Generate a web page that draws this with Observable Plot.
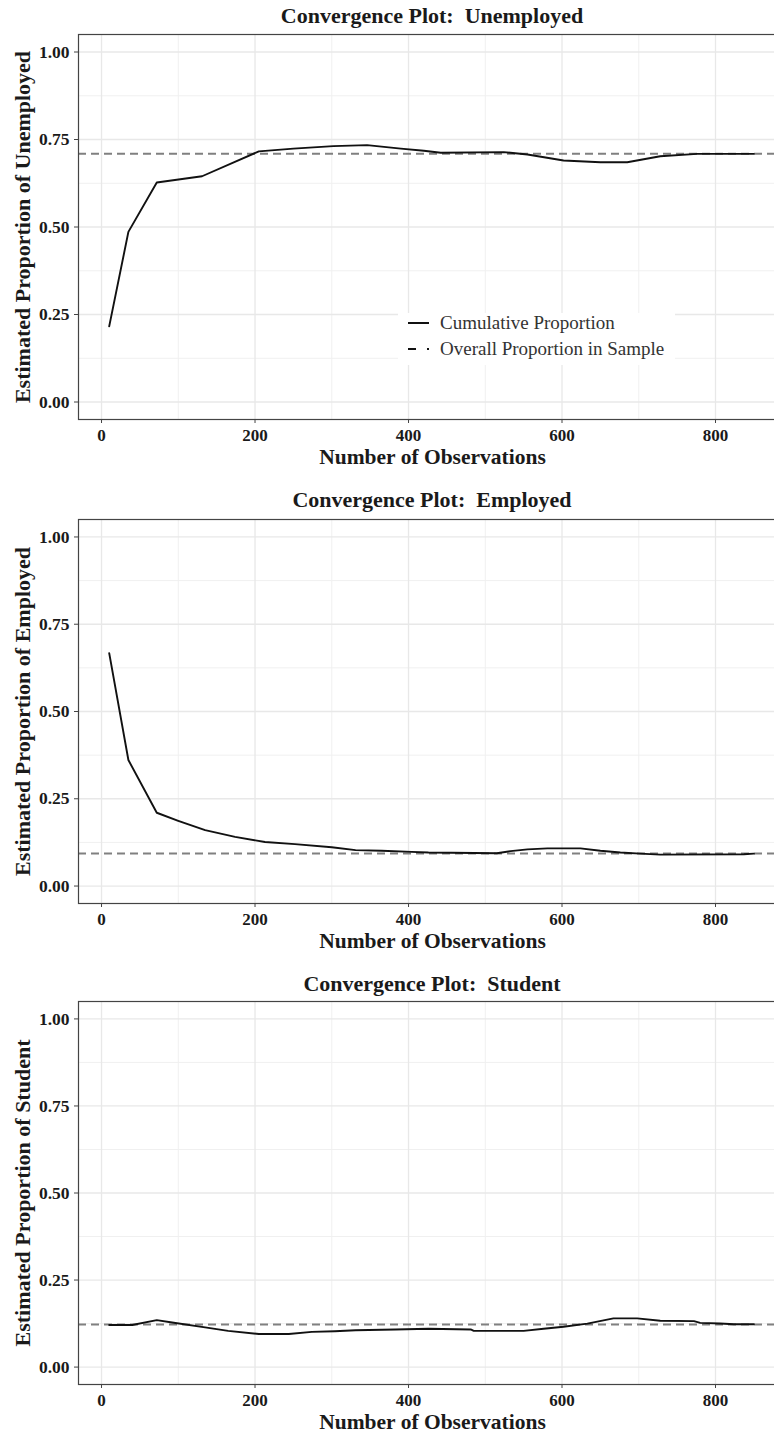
<!DOCTYPE html>
<html>
<head>
<meta charset="utf-8">
<script src="https://cdn.jsdelivr.net/npm/d3@7"></script>
<script src="https://cdn.jsdelivr.net/npm/@observablehq/plot@0.6"></script>
<style>
  html, body { margin: 0; padding: 0; background: #fff; overflow: hidden; }
  #wrap { position: relative; width: 774px; height: 1434px; overflow: hidden; }
  .title { margin-left: 78px; width: 708px; text-align: center; font-family: "Liberation Serif", serif; font-weight: bold; font-size: 22px; color: #1a1a1a; white-space: pre; }
  .legend { position: absolute; left: 398px; top: 313px; width: 277px; height: 52px; background: #fff; font-family: "Liberation Serif", serif; font-size: 19px; color: #333; }
  .legend .row { position: absolute; left: 0; height: 20px; display: flex; align-items: center; }
  .legend svg { margin-left: 10px; margin-right: 11px; }
  #wrap > div > svg { display: block; max-width: none !important; }
</style>
</head>
<body>
<div id="wrap"></div>
<script>
// ---- data ----
const xTicks = [0, 200, 400, 600, 800];
const xMinor = [100, 300, 500, 700];
const yTicks = [0, 0.25, 0.5, 0.75, 1];
const yMinor = [0.125, 0.375, 0.625, 0.875];

const obsUnemployed  = [10, 35, 72, 131, 205, 250, 302, 346, 390, 420, 442, 524, 555, 602, 650, 685, 728, 776, 850];
const propUnemployed = [0.216, 0.486, 0.627, 0.645, 0.716, 0.724, 0.731, 0.734, 0.724, 0.718, 0.712, 0.714, 0.707, 0.690, 0.685, 0.685, 0.702, 0.709, 0.709];
const overallUnemployed = 0.709;

const obsEmployed  = [10, 35, 72, 100, 135, 174, 213, 252, 300, 331, 365, 404, 426, 515, 533, 555, 581, 624, 650, 676, 702, 728, 837, 850];
const propEmployed = [0.667, 0.361, 0.210, 0.187, 0.160, 0.141, 0.126, 0.120, 0.111, 0.103, 0.101, 0.098, 0.096, 0.094, 0.100, 0.105, 0.108, 0.108, 0.101, 0.096, 0.093, 0.090, 0.091, 0.093];
const overallEmployed = 0.093;

const obsStudent  = [10, 40, 72, 92, 135, 165, 205, 244, 274, 304, 331, 383, 426, 481, 485, 550, 576, 602, 633, 667, 698, 728, 772, 780, 806, 824, 850];
const propStudent = [0.121, 0.121, 0.135, 0.128, 0.114, 0.104, 0.095, 0.095, 0.101, 0.103, 0.106, 0.108, 0.110, 0.108, 0.104, 0.104, 0.110, 0.116, 0.125, 0.140, 0.140, 0.133, 0.132, 0.127, 0.125, 0.123, 0.123];
const overallStudent = 0.122;

const panels = [
  {title: "Convergence Plot:  Unemployed", ylabel: "Estimated Proportion of Unemployed", obs: obsUnemployed, prop: propUnemployed, overall: overallUnemployed, mt: 2, mb: 65, h: 452, legend: true},
  {title: "Convergence Plot:  Employed", ylabel: "Estimated Proportion of Employed", obs: obsEmployed, prop: propEmployed, overall: overallEmployed, mt: 3, mb: 65, h: 452},
  {title: "Convergence Plot:  Student", ylabel: "Estimated Proportion of Student", obs: obsStudent, prop: propStudent, overall: overallStudent, mt: 1, mb: 50, h: 434}
];

const wrap = document.getElementById("wrap");
const serif = "Liberation Serif, serif";

panels.forEach((p) => {
  const block = document.createElement("div");
  block.style.position = "relative";
  const t = document.createElement("div");
  t.className = "title";
  t.style.height = "32px";
  t.style.lineHeight = "32px";
  t.textContent = p.title;
  block.appendChild(t);

  const rows = p.obs.map((x, i) => ({x, y: p.prop[i]}));
  const chart = Plot.plot({
    width: 786,
    height: p.h,
    marginLeft: 78,
    marginRight: 0,
    marginTop: p.mt,
    marginBottom: p.mb,
    style: {fontFamily: serif, fontWeight: "bold", fontSize: "17px", color: "#1a1a1a", background: "#fff", overflow: "visible", maxWidth: "none"},
    x: {domain: [-30, 892.5]},
    y: {domain: [-0.05, 1.05]},
    marks: [
      Plot.ruleX(xMinor, {stroke: "#f0f0f0", strokeWidth: 1}),
      Plot.ruleY(yMinor, {stroke: "#f0f0f0", strokeWidth: 1}),
      Plot.ruleX(xTicks, {stroke: "#e8e8e8", strokeWidth: 1.3}),
      Plot.ruleY(yTicks, {stroke: "#e8e8e8", strokeWidth: 1.3}),
      Plot.ruleY([p.overall], {stroke: "#808080", strokeWidth: 2, strokeDasharray: "8,5"}),
      Plot.line(rows, {x: "x", y: "y", stroke: "#111", strokeWidth: 1.9}),
      Plot.frame({stroke: "#444", strokeWidth: 1.2}),
      Plot.axisX({ticks: xTicks, tickSize: 4, tickPadding: 5, stroke: "#444", label: null, fontSize: 17, fontWeight: "bold"}),
      Plot.axisY({ticks: yTicks, tickFormat: d3.format(".2f"), tickSize: 4, tickPadding: 5, stroke: "#444", label: null, fontSize: 17.5, fontWeight: "bold"}),
      Plot.text(["Number of Observations"], {frameAnchor: "bottom", dy: 37.5, lineAnchor: "middle", textAnchor: "middle", fontSize: 21.5, fontWeight: "bold", fill: "#1a1a1a"}),
      Plot.text([p.ylabel], {frameAnchor: "left", dx: -56, rotate: -90, lineAnchor: "middle", textAnchor: "middle", fontSize: 22, fontWeight: "bold", fill: "#1a1a1a"})
    ]
  });
  chart.style.maxWidth = "none";
  chart.style.display = "block";
  block.appendChild(chart);

  if (p.legend) {
    const lg = document.createElement("div");
    lg.className = "legend";
    lg.innerHTML =
      '<div class="row" style="top:0px;height:20px;"><svg width="21" height="6"><line x1="0" x2="21" y1="3" y2="3" stroke="#111" stroke-width="2"/></svg>Cumulative Proportion</div>' +
      '<div class="row" style="top:26px;height:20px;"><svg width="21" height="6"><line x1="0" x2="21" y1="3" y2="3" stroke="#111" stroke-width="2" stroke-dasharray="8,11"/></svg>Overall Proportion in Sample</div>';
    block.appendChild(lg);
  }
  wrap.appendChild(block);
});
</script>
</body>
</html>
